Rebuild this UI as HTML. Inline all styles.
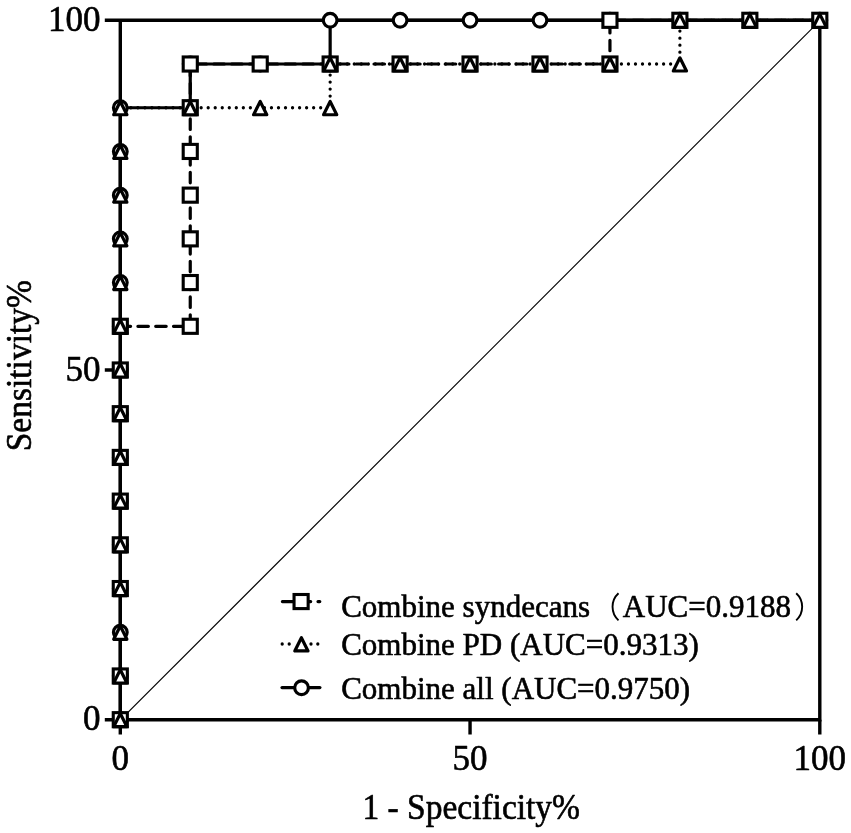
<!DOCTYPE html>
<html><head><meta charset="utf-8"><title>ROC curve</title>
<style>html,body{margin:0;padding:0;background:#fff;width:851px;height:833px;overflow:hidden;font-family:"Liberation Serif",serif}svg{display:block;will-change:transform}</style>
</head><body>
<svg width="851" height="833" viewBox="0 0 851 833">
<rect width="851" height="833" fill="#fff"/>
<line x1="120.70" y1="719.70" x2="820.20" y2="20.30" stroke="#000" stroke-width="1.15"/>
<g stroke="#000" stroke-width="3.4" fill="none" stroke-linecap="butt">
<path d="M104.80,20.30 H821.50 M819.80,20.30 V721.40 M104.80,719.70 H821.50 M120.30,18.60 V734.50"/>
<path d="M104.8,370.0 H120.3 M470.05,719.7 V734.5 M819.8,719.7 V734.5"/>
</g>
<path d="M120.30,719.70 L120.30,107.73 L190.25,107.73 L190.25,64.01 L330.15,64.01 L330.15,20.30 L819.80,20.30" fill="none" stroke="#000" stroke-width="3.2"/>
<path d="M120.30,326.29 L190.25,326.29 L190.25,64.01 L609.95,64.01 L609.95,20.30 L819.80,20.30" fill="none" stroke="#000" stroke-width="3.2" stroke-linecap="round" stroke-dasharray="10.5 7.3" stroke-dashoffset="0.2"/>
<path d="M120.30,107.73 L330.15,107.73 L330.15,64.01 L679.90,64.01 L679.90,20.30 L819.80,20.30" fill="none" stroke="#000" stroke-width="3.3" stroke-linecap="round" stroke-dasharray="0 7.03" stroke-dashoffset="3.5"/>
<g fill="#fff" stroke="#000" stroke-width="3.2">
<circle cx="120.30" cy="719.70" r="6.85"/>
<circle cx="120.30" cy="675.99" r="6.85"/>
<circle cx="120.30" cy="632.28" r="6.85"/>
<circle cx="120.30" cy="588.56" r="6.85"/>
<circle cx="120.30" cy="544.85" r="6.85"/>
<circle cx="120.30" cy="501.14" r="6.85"/>
<circle cx="120.30" cy="457.43" r="6.85"/>
<circle cx="120.30" cy="413.71" r="6.85"/>
<circle cx="120.30" cy="370.00" r="6.85"/>
<circle cx="120.30" cy="326.29" r="6.85"/>
<circle cx="120.30" cy="282.57" r="6.85"/>
<circle cx="120.30" cy="238.86" r="6.85"/>
<circle cx="120.30" cy="195.15" r="6.85"/>
<circle cx="120.30" cy="151.44" r="6.85"/>
<circle cx="120.30" cy="107.73" r="6.85"/>
<circle cx="190.25" cy="107.73" r="6.85"/>
<circle cx="190.25" cy="64.01" r="6.85"/>
<circle cx="260.20" cy="64.01" r="6.85"/>
<circle cx="330.15" cy="64.01" r="6.85"/>
<circle cx="330.15" cy="20.30" r="6.85"/>
<circle cx="400.10" cy="20.30" r="6.85"/>
<circle cx="470.05" cy="20.30" r="6.85"/>
<circle cx="540.00" cy="20.30" r="6.85"/>
<circle cx="609.95" cy="20.30" r="6.85"/>
<circle cx="679.90" cy="20.30" r="6.85"/>
<circle cx="749.85" cy="20.30" r="6.85"/>
<circle cx="819.80" cy="20.30" r="6.85"/>
</g>
<g fill="#fff" stroke="#000" stroke-width="3.1">
<rect x="113.25" y="712.65" width="14.1" height="14.1"/>
<rect x="113.25" y="668.94" width="14.1" height="14.1"/>
<rect x="113.25" y="581.51" width="14.1" height="14.1"/>
<rect x="113.25" y="537.80" width="14.1" height="14.1"/>
<rect x="113.25" y="494.09" width="14.1" height="14.1"/>
<rect x="113.25" y="450.38" width="14.1" height="14.1"/>
<rect x="113.25" y="406.66" width="14.1" height="14.1"/>
<rect x="113.25" y="362.95" width="14.1" height="14.1"/>
<rect x="113.25" y="319.24" width="14.1" height="14.1"/>
<rect x="183.20" y="319.24" width="14.1" height="14.1"/>
<rect x="183.20" y="275.52" width="14.1" height="14.1"/>
<rect x="183.20" y="231.81" width="14.1" height="14.1"/>
<rect x="183.20" y="188.10" width="14.1" height="14.1"/>
<rect x="183.20" y="144.39" width="14.1" height="14.1"/>
<rect x="183.20" y="100.68" width="14.1" height="14.1"/>
<rect x="183.20" y="56.96" width="14.1" height="14.1"/>
<rect x="253.15" y="56.96" width="14.1" height="14.1"/>
<rect x="323.10" y="56.96" width="14.1" height="14.1"/>
<rect x="393.05" y="56.96" width="14.1" height="14.1"/>
<rect x="463.00" y="56.96" width="14.1" height="14.1"/>
<rect x="532.95" y="56.96" width="14.1" height="14.1"/>
<rect x="602.90" y="56.96" width="14.1" height="14.1"/>
<rect x="602.90" y="13.25" width="14.1" height="14.1"/>
<rect x="672.85" y="13.25" width="14.1" height="14.1"/>
<rect x="742.80" y="13.25" width="14.1" height="14.1"/>
<rect x="812.75" y="13.25" width="14.1" height="14.1"/>
</g>
<g fill="#fff" stroke="#000" stroke-width="3.2" stroke-linejoin="round">
<polygon points="120.30,713.50 113.70,726.70 126.90,726.70"/>
<polygon points="120.30,669.79 113.70,682.99 126.90,682.99"/>
<polygon points="120.30,626.08 113.70,639.28 126.90,639.28"/>
<polygon points="120.30,582.36 113.70,595.56 126.90,595.56"/>
<polygon points="120.30,538.65 113.70,551.85 126.90,551.85"/>
<polygon points="120.30,494.94 113.70,508.14 126.90,508.14"/>
<polygon points="120.30,451.22 113.70,464.43 126.90,464.43"/>
<polygon points="120.30,407.51 113.70,420.71 126.90,420.71"/>
<polygon points="120.30,363.80 113.70,377.00 126.90,377.00"/>
<polygon points="120.30,320.09 113.70,333.29 126.90,333.29"/>
<polygon points="120.30,276.37 113.70,289.57 126.90,289.57"/>
<polygon points="120.30,232.66 113.70,245.86 126.90,245.86"/>
<polygon points="120.30,188.95 113.70,202.15 126.90,202.15"/>
<polygon points="120.30,145.24 113.70,158.44 126.90,158.44"/>
<polygon points="120.30,101.53 113.70,114.73 126.90,114.73"/>
<polygon points="190.25,101.53 183.65,114.73 196.85,114.73"/>
<polygon points="260.20,101.53 253.60,114.73 266.80,114.73"/>
<polygon points="330.15,101.53 323.55,114.73 336.75,114.73"/>
<polygon points="330.15,57.81 323.55,71.01 336.75,71.01"/>
<polygon points="400.10,57.81 393.50,71.01 406.70,71.01"/>
<polygon points="470.05,57.81 463.45,71.01 476.65,71.01"/>
<polygon points="540.00,57.81 533.40,71.01 546.60,71.01"/>
<polygon points="609.95,57.81 603.35,71.01 616.55,71.01"/>
<polygon points="679.90,57.81 673.30,71.01 686.50,71.01"/>
<polygon points="679.90,14.10 673.30,27.30 686.50,27.30"/>
<polygon points="749.85,14.10 743.25,27.30 756.45,27.30"/>
<polygon points="819.80,14.10 813.20,27.30 826.40,27.30"/>
</g>
<path d="M282.4,601.6 H319.8" stroke="#000" stroke-width="3.2" stroke-linecap="round" stroke-dasharray="10.5 7.3"/>
<g fill="#fff" stroke="#000" stroke-width="3.1"><rect x="294.05" y="594.50" width="14.1" height="14.1"/></g>
<g fill="#000"><circle cx="282.2" cy="644.0" r="1.65"/><circle cx="289.2" cy="644.0" r="1.65"/><circle cx="311.0" cy="644.0" r="1.65"/><circle cx="317.8" cy="644.0" r="1.65"/></g>
<g fill="#fff" stroke="#000" stroke-width="3.2" stroke-linejoin="round"><polygon points="301.40,637.75 294.80,650.95 308.00,650.95"/></g>
<path d="M282,687.6 H319.9" stroke="#000" stroke-width="3.2" stroke-linecap="round"/>
<g fill="#fff" stroke="#000" stroke-width="3.2"><circle cx="301.55" cy="687.80" r="6.85"/></g>
<g font-family="Liberation Serif, serif" font-size="31" fill="#000" stroke="#000" stroke-width="0.6" stroke-linejoin="round">
<text x="341.2" y="616.6">Combine syndecans</text><text x="622.8" y="616.6">AUC=0.9188</text>
<text x="341.2" y="654.5">Combine PD (AUC=0.9313)</text>
<text x="341.2" y="699">Combine all (AUC=0.9750)</text>
</g>
<path d="M618.5,593.3 A18.4,18.4 0 0 0 618.5,620.4 M796.2,593.3 A18.4,18.4 0 0 1 796.2,620.4" fill="none" stroke="#000" stroke-width="1.9"/>
<g font-family="Liberation Serif, serif" font-size="35" fill="#000" stroke="#000" stroke-width="0.6" stroke-linejoin="round">
<text x="100.5" y="31" text-anchor="end">100</text>
<text x="100.5" y="381" text-anchor="end">50</text>
<text x="100.5" y="730" text-anchor="end">0</text>
<text x="120.3" y="770" text-anchor="middle">0</text>
<text x="470.05" y="770" text-anchor="middle">50</text>
<text x="819.8" y="770" text-anchor="middle">100</text>
</g>
<g font-family="Liberation Serif, serif" font-size="33.5" fill="#000" stroke="#000" stroke-width="0.6" stroke-linejoin="round">
<text transform="translate(471.2,818.5) scale(1,1.075)" text-anchor="middle">1 - Specificity%</text>
<text transform="translate(31.2,365.7) rotate(-90) scale(1,1.075)" text-anchor="middle">Sensitivity%</text>
</g>
</svg>
</body></html>
